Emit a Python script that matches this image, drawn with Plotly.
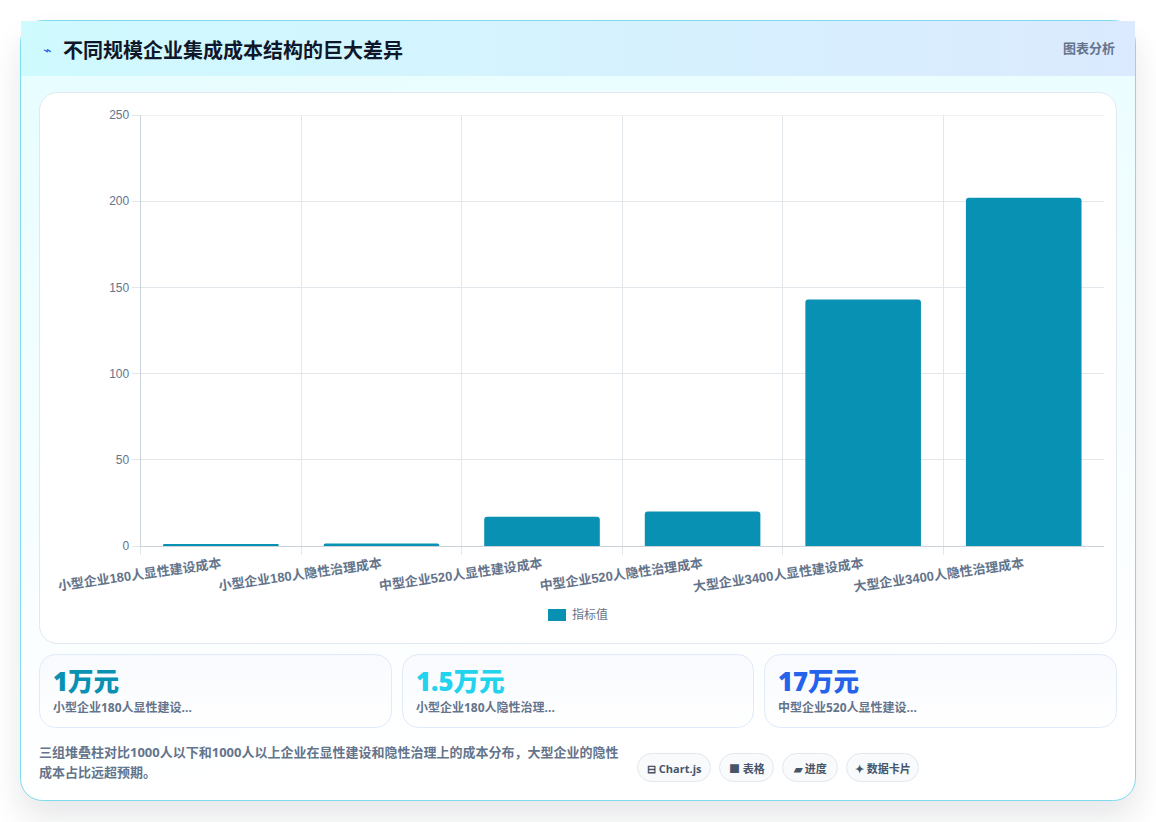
import base64
import plotly.graph_objects as go

W, H = 1156, 822

# Chart data
categories = [
    "小型企业180人显性建设成本", "小型企业180人隐性治理成本",
    "中型企业520人显性建设成本", "中型企业520人隐性治理成本",
    "大型企业3400人显性建设成本", "大型企业3400人隐性治理成本",
]
values = [1, 1.5, 17, 20, 143, 202]
y_ticks = [0, 50, 100, 150, 200, 250]
series_name = "指标值"

# Summary cards
card_values = ["1万元", "1.5万元", "17万元"]
card_labels = ["小型企业180人显性建设...", "小型企业180人隐性治理...", "中型企业520人显性建设..."]
card_colors = ["#0891b2", "#22d3ee", "#2563eb"]
card_boxes = [(39.5, 391.5), (402.5, 753.5), (764.5, 1116.5)]

# Footer chips
chips = [("⊟ Chart.js", 637.5, 710.5), ("■ 表格", 719.5, 773.5),
         ("▰ 进度", 782.5, 837.5), ("✦ 数据卡片", 846.5, 918.5)]

CJK = "Noto Sans CJK SC"
LATIN_CJK = f"Open Sans, {CJK}, sans-serif"
ARIAL_CJK = f"Liberation Sans, {CJK}, sans-serif"
BAR = "#0891b2"
GRID = "#e1e7ea"
AXIS = "#cbd2d8"


def px(x):
    return x / W


def py(y):
    return 1 - y / H


# The page furniture (shadow, card, gradients) is a single SVG backdrop
def rrect(x0, y0, x1, y1, r, fill, stroke="none", extra=""):
    return (f'<rect x="{x0}" y="{y0}" width="{x1 - x0}" height="{y1 - y0}" rx="{r}" ry="{r}" '
            f'fill="{fill}" stroke="{stroke}" stroke-width="1" {extra}/>')


parts = [
    f'<svg xmlns="http://www.w3.org/2000/svg" width="{W}" height="{H}" viewBox="0 0 {W} {H}">',
    '<defs>',
    '<filter id="soft" x="-10%" y="-10%" width="120%" height="120%"><feGaussianBlur stdDeviation="16"/></filter>',
    '<linearGradient id="head" x1="0" y1="0" x2="1" y2="0"><stop offset="0" stop-color="#cffafe"/><stop offset="1" stop-color="#dbeafe"/></linearGradient>',
    '<linearGradient id="body" x1="0" y1="0" x2="0.15" y2="1"><stop offset="0" stop-color="#e6fdff"/><stop offset="0.8" stop-color="#fbfeff"/><stop offset="1" stop-color="#ffffff"/></linearGradient>',
    '<linearGradient id="tile" x1="0" y1="0" x2="0" y2="1"><stop offset="0" stop-color="#f8fafe"/><stop offset="1" stop-color="#ffffff"/></linearGradient>',
    '</defs>',
    f'<rect width="{W}" height="{H}" fill="#ffffff"/>',
    rrect(20, 38, 1136, 818, 22, "#0f172a", extra='opacity="0.10" filter="url(#soft)"'),
    rrect(20.5, 20.5, 1135.5, 800.5, 22, "url(#body)", "#7fdcee"),
    '<rect x="21" y="21" width="1114" height="55" fill="url(#head)"/>',
    rrect(39.5, 92.5, 1116.5, 643.5, 18, "#ffffff", "#e2e8f0"),
]
for x0, x1 in card_boxes:
    parts.append(rrect(x0, 654.5, x1, 727.5, 16, "url(#tile)", "#dfeafa"))
for _, x0, x1 in chips:
    parts.append(rrect(x0, 753.5, x1, 781.5, 14, "#f8fafc", "#e2e8f0"))
parts.append('<rect x="548" y="609" width="18" height="12" fill="%s"/>' % BAR)
parts.append('</svg>')
backdrop = "data:image/svg+xml;base64," + base64.b64encode("".join(parts).encode()).decode()


def note(text, x, y, size, color, anchor="left", weight=400, family=LATIN_CJK):
    return dict(text=text, x=px(x), y=py(y), xref="paper", yref="paper", showarrow=False,
                xanchor=anchor, yanchor="middle", align=anchor, borderpad=0, borderwidth=0,
                font=dict(size=size, color=color, family=family, weight=weight))


annotations = [
    note("⌁", 47, 50, 14, "#2563eb", "center", family="DejaVu Sans"),
    note("不同规模企业集成成本结构的巨大差异", 63, 50, 20, "#0f172a", weight=700),
    note("图表分析", 1115, 48, 13, "#64748b", "right", 700),
    note(series_name, 572, 614, 12, "#64748b", family=ARIAL_CJK),
    note("三组堆叠柱对比1000人以下和1000人以上企业在显性建设和隐性治理上的成本分布，大型企业的隐性",
         39, 752, 13, "#64748b", weight=700),
    note("成本占比远超预期。", 39, 772, 13, "#64748b", weight=700),
]
for (x0, _), big, small, color in zip(card_boxes, card_values, card_labels, card_colors):
    annotations.append(note(big, x0 + 13.5, 681, 25.6, color, weight=800))
    annotations.append(note(small, x0 + 13.5, 707, 12, "#64748b", weight=700))
for label, x0, x1 in chips:
    annotations.append(note(label, (x0 + x1) / 2, 768, 11, "#475569", "center", 700))

shapes = [
    # Top gridline, which the axis skips at the edge of its range
    dict(type="line", xref="x domain", yref="y", x0=0, x1=1, y0=y_ticks[-1], y1=y_ticks[-1],
         line=dict(color=GRID, width=1), layer="below"),
    # Hides the trailing boundary tick after the last category
    dict(type="line", xref="x domain", yref="paper", x0=1, x1=1, y0=py(547), y1=py(556),
         line=dict(color="#ffffff", width=2), layer="above"),
]

fig = go.Figure(go.Bar(
    x=categories, y=values, name=series_name, width=0.72,
    marker=dict(color=BAR, line=dict(width=0), cornerradius=3),
    hovertemplate="%{x}: %{y}<extra></extra>",
))
fig.update_layout(
    width=W, height=H, autosize=False, showlegend=False,
    margin=dict(l=0, r=0, t=0, b=0, pad=0, autoexpand=False),
    paper_bgcolor="#ffffff", plot_bgcolor="rgba(0,0,0,0)",
    images=[dict(source=backdrop, xref="paper", yref="paper", x=0, y=1, sizex=1, sizey=1,
                 xanchor="left", yanchor="top", sizing="stretch", layer="below")],
    annotations=annotations,
    shapes=shapes,
    xaxis=dict(
        domain=[px(140.6), px(1104)], type="category", tickson="boundaries", automargin=False,
        tickangle=-8, ticklabelstandoff=5, ticks="outside", ticklen=8, tickcolor=GRID, tickwidth=1,
        showgrid=True, gridcolor=GRID, gridwidth=1,
        showline=True, linecolor=AXIS, linewidth=1,
        tickfont=dict(size=13, color="#64748b", family=ARIAL_CJK, weight=700),
    ),
    yaxis=dict(
        domain=[py(546), py(115)], range=[0, 250], tickvals=y_ticks, automargin=False,
        ticks="outside", ticklen=8, tickcolor=GRID, tickwidth=1,
        showgrid=True, gridcolor=GRID, gridwidth=1, zeroline=False,
        showline=True, linecolor=AXIS, linewidth=1,
        tickfont=dict(size=12, color="#64748b", family=ARIAL_CJK),
    ),
)
fig.write_html("out.html")
